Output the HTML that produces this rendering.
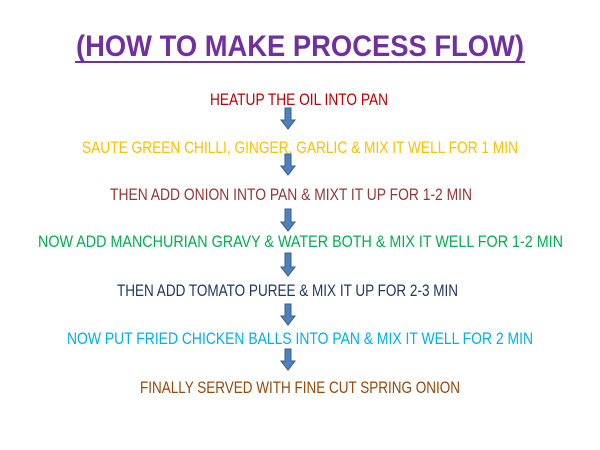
<!DOCTYPE html>
<html>
<head>
<meta charset="utf-8">
<style>
html,body{margin:0;padding:0;background:#fff;}
svg{display:block;}
text{font-family:"Liberation Sans",Arial,sans-serif;}
</style>
</head>
<body>
<svg width="600" height="450" viewBox="0 0 600 450" xmlns="http://www.w3.org/2000/svg">
<rect width="600" height="450" fill="#fff"/>
<text x="76" y="56" font-size="29.5" font-weight="bold" fill="#7030a0" textLength="448" lengthAdjust="spacingAndGlyphs">(HOW TO MAKE PROCESS FLOW)</text>
<rect x="75" y="61" width="450" height="2" fill="#7030a0"/>

<text x="210" y="105" font-size="16.5" fill="#c00000" textLength="178" lengthAdjust="spacingAndGlyphs">HEATUP THE OIL INTO PAN</text>
<text x="82" y="153" font-size="16.5" fill="#ffc000" textLength="436" lengthAdjust="spacingAndGlyphs">SAUTE GREEN CHILLI, GINGER, GARLIC &amp; MIX IT WELL FOR 1 MIN</text>
<text x="110" y="200" font-size="16.5" fill="#953735" textLength="362" lengthAdjust="spacingAndGlyphs">THEN ADD ONION INTO PAN &amp; MIXT IT UP FOR 1-2 MIN</text>
<text x="38" y="247" font-size="16.5" fill="#00b050" textLength="525" lengthAdjust="spacingAndGlyphs">NOW ADD MANCHURIAN GRAVY &amp; WATER BOTH &amp; MIX IT WELL FOR 1-2 MIN</text>
<text x="117" y="296" font-size="16.5" fill="#1f3864" textLength="341" lengthAdjust="spacingAndGlyphs">THEN ADD TOMATO PUREE &amp; MIX IT UP FOR 2-3 MIN</text>
<text x="67" y="344" font-size="16.5" fill="#00b0f0" textLength="466" lengthAdjust="spacingAndGlyphs">NOW PUT FRIED CHICKEN BALLS INTO PAN &amp; MIX IT WELL FOR 2 MIN</text>
<text x="140" y="393" font-size="16.5" fill="#984807" textLength="320" lengthAdjust="spacingAndGlyphs">FINALLY SERVED WITH FINE CUT SPRING ONION</text>

<g fill="#4f81bd" stroke="#385d8a" stroke-width="1">
<polygon points="285,108 291,108 291,120 295,120 288,129 281,120 285,120"/>
<polygon points="285,154 291,154 291,166 295,166 288,175 281,166 285,166"/>
<polygon points="285,209 291,209 291,222 295,222 288,231 281,222 285,222"/>
<polygon points="285,253 291,253 291,267 295,267 288,276 281,267 285,267"/>
<polygon points="285,304 291,304 291,316 295,316 288,325 281,316 285,316"/>
<polygon points="285,349 291,349 291,361 295,361 288,370 281,361 285,361"/>
</g>
</svg>
</body>
</html>
